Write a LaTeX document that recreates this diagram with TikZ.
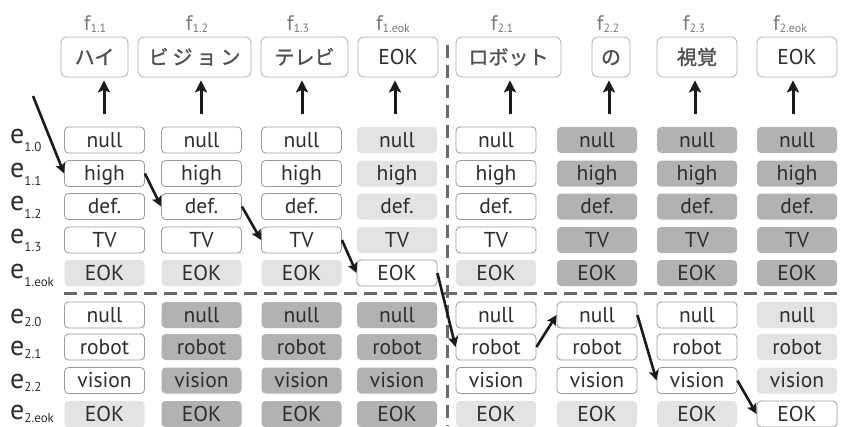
\documentclass[tikz,border=0pt]{standalone}
\usepackage{fontspec}
\setmainfont{PT Sans}
\newfontfamily\jp[FakeBold=1.2]{Noto Sans CJK JP}
\usetikzlibrary{arrows.meta}
\definecolor{txt}{HTML}{2E2E2E}
\definecolor{flab}{HTML}{7A7A7A}
\definecolor{bord}{HTML}{9A9A9A}
\definecolor{tbord}{HTML}{B0B0B0}
\definecolor{lightc}{HTML}{E3E3E4}
\definecolor{darkc}{HTML}{B2B2B2}
\definecolor{dashc}{HTML}{6A6A6A}
\definecolor{jptxt}{HTML}{505050}
\definecolor{arr}{HTML}{1A1A1A}
\tikzset{
  cell/.style={rounded corners=4pt, minimum width=80pt, minimum height=26pt, inner sep=0pt,
    text height=14.5pt, text depth=0pt, font=\fontsize{21.5}{21.5}\selectfont, text=txt},
  cw/.style={cell, draw=bord, line width=0.8pt, fill=white},
  cl/.style={cell, fill=lightc},
  cd/.style={cell, fill=darkc},
  kind/.code={\if w#1\tikzset{cw}\fi\if l#1\tikzset{cl}\fi\if d#1\tikzset{cd}\fi},
  topbox/.style={draw=tbord, rounded corners=6pt, line width=0.8pt, minimum height=40pt,
    inner sep=0pt, text height=15pt, text depth=0pt},
  jpbox/.style={topbox, text=jptxt, font=\jp\fontsize{20}{20}\selectfont},
  eokbox/.style={topbox, text=txt, font=\fontsize{21.5}{21.5}\selectfont},
  flabel/.style={anchor=base, inner sep=0pt, text=flab, font=\fontsize{21}{21}\selectfont},
  elabel/.style={anchor=base west, inner sep=0pt, text=txt, font=\fontsize{28}{28}\selectfont},
  dashline/.style={draw=dashc, line width=3pt, dash pattern=on 13pt off 7pt},
  uparrow/.style={draw=arr, line width=3pt, -{Stealth[length=12pt,width=12pt,inset=2.5pt]}},
  patharrow/.style={draw=arr, line width=2.6pt, -{Stealth[length=10pt,width=10pt,inset=2pt]}}
}
\newcommand{\fsub}[1]{\raisebox{-2pt}{\fontsize{12}{12}\selectfont #1}}
\newcommand{\esubU}[1]{\raisebox{-8pt}{\fontsize{13}{13}\selectfont #1}}
\newcommand{\esubL}[1]{\raisebox{-3pt}{\fontsize{13}{13}\selectfont #1}}
\begin{document}
\begin{tikzpicture}[x=1pt,y=-1pt]
\useasboundingbox (0,0) rectangle (842,426);
\fill[white] (0,0) rectangle (842,426);

% separators
\draw[dashline] (447,45) -- (447,426);
\draw[dashline] (64,293) -- (842,293);

% f labels
\node[flabel] (f11) at (95,30) {f\fsub{1.1}};
\node[flabel] (f12) at (197,30) {f\fsub{1.2}};
\node[flabel] (f13) at (298,30) {f\fsub{1.3}};
\node[flabel] (f1e) at (393,30) {f\fsub{1.eok}};
\node[flabel] (f21) at (502,30) {f\fsub{2.1}};
\node[flabel] (f22) at (608,30) {f\fsub{2.2}};
\node[flabel] (f23) at (694,30) {f\fsub{2.3}};
\node[flabel] (f2e) at (790,30) {f\fsub{2.eok}};

% top boxes
\node[jpbox, minimum width=67pt] (t1) at (94.5,57) {ハイ};
\node[jpbox, minimum width=113pt] (t2) at (194.5,57) {ビ\hspace{4pt}ジ\hspace{4pt}ョ\hspace{4pt}ン};
\node[jpbox, minimum width=87pt] (t3) at (304.5,57) {テレビ};
\node[eokbox, minimum width=80pt] (t4) at (398,57) {EOK};
\node[jpbox, minimum width=105pt] (t5) at (508.5,57) {ロボット};
\node[jpbox, minimum width=38pt] (t6) at (611,57) {の};
\node[jpbox, minimum width=80pt] (t7) at (697,57) {視覚};
\node[eokbox, minimum width=80pt] (t8) at (797,57) {EOK};

% up arrows
\foreach \i/\x in {1/104,2/201,3/302,4/395,5/510,6/609,7/695,8/793}{
  \coordinate (a\i) at (\x,114);
  \draw[uparrow, shorten >=3pt] (a\i) -- (a\i |- t\i.south);
}

% e labels
\node[elabel] (e10) at (10,143) {e\esubU{1.0}};
\node[elabel] (e11) at (10,177) {e\esubU{1.1}};
\node[elabel] (e12) at (10,210) {e\esubU{1.2}};
\node[elabel] (e13) at (10,243) {e\esubU{1.3}};
\node[elabel] (e1e) at (10,278) {e\esubU{1.eok}};
\node[elabel] (e20) at (10,323) {e\esubL{2.0}};
\node[elabel] (e21) at (10,355) {e\esubL{2.1}};
\node[elabel] (e22) at (10,388) {e\esubL{2.2}};
\node[elabel] (e2e) at (10,419) {e\esubL{2.eok}};

% upper cells
\foreach \c/\x/\ka/\kb/\kc/\kd/\ke in {1/104.5/w/w/w/w/l, 2/201.5/w/w/w/w/l, 3/301.5/w/w/w/w/l,
  4/397/l/l/l/l/w, 5/496/w/w/w/w/l, 6/597/d/d/d/d/d, 7/697/d/d/d/d/d, 8/797/d/d/d/d/d}{
  \node[kind=\ka] (u\c-0) at (\x,140) {null};
  \node[kind=\kb] (u\c-1) at (\x,173.5) {high};
  \node[kind=\kc] (u\c-2) at (\x,206.5) {def.};
  \node[kind=\kd] (u\c-3) at (\x,240) {TV};
  \node[kind=\ke] (u\c-4) at (\x,273) {EOK};
}
% lower cells
\foreach \c/\x/\ka/\kb/\kc/\kd in {1/104.5/w/w/w/l, 2/201.5/d/d/d/d, 3/301.5/d/d/d/d,
  4/397/d/d/d/d, 5/496/w/w/w/l, 6/597/w/w/w/l, 7/697/w/w/w/l, 8/797/l/l/l/w}{
  \node[kind=\ka] (l\c-0) at (\x,315) {null};
  \node[kind=\kb] (l\c-1) at (\x,347) {robot};
  \node[kind=\kc] (l\c-2) at (\x,380.5) {vision};
  \node[kind=\kd] (l\c-3) at (\x,414) {EOK};
}

% alignment path
\coordinate (start) at (33,96);
\draw[patharrow] (start) -- (u1-1.west);
\draw[patharrow] (u1-1.east) -- (u2-2.west);
\draw[patharrow] (u2-2.east) -- (u3-3.west);
\draw[patharrow] (u3-3.east) -- (u4-4.west);
\draw[patharrow] (u4-4.east) -- (l5-1.west);
\draw[patharrow] (l5-1.east) -- (l6-0.west);
\draw[patharrow] (l6-0.east) -- (l7-2.west);
\draw[patharrow] (l7-2.east) -- (l8-3.west);
\end{tikzpicture}
\end{document}
